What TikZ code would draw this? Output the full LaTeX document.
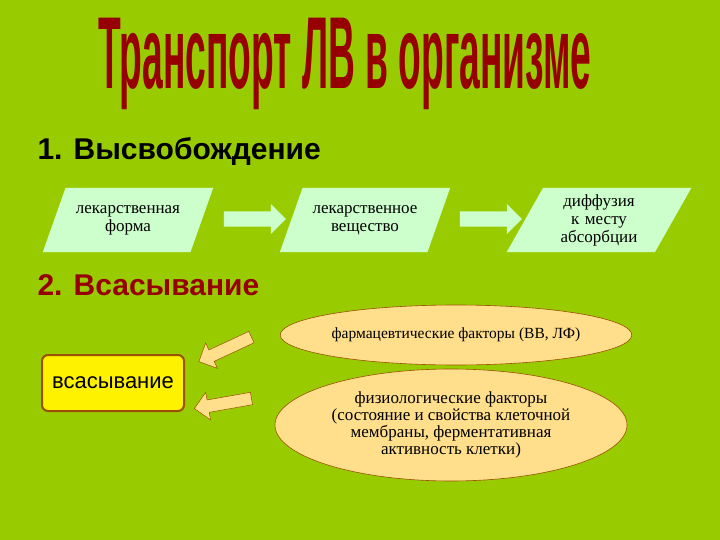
\documentclass[tikz,border=0pt]{standalone}
\usepackage{fontspec}
\setmainfont{Liberation Serif}
\newfontfamily\sansf{Liberation Sans}
\usetikzlibrary{shapes.geometric,shapes.arrows}
\definecolor{bg}{RGB}{153,204,0}
\definecolor{mint}{RGB}{204,255,204}
\definecolor{pale}{RGB}{255,222,140}
\definecolor{brn}{RGB}{153,80,0}
\definecolor{dred}{RGB}{150,0,0}
\begin{document}
\begin{tikzpicture}[x=1pt,y=-1pt,
 para/.style={trapezium,trapezium left angle=58,trapezium right angle=122,fill=mint,minimum height=64pt,text width=125pt,align=center,font=\fontsize{17}{18}\selectfont,inner xsep=0pt,trapezium stretches body},
 barrow/.style={single arrow,fill=mint,minimum height=62pt,minimum width=30pt,single arrow head extend=4pt,inner sep=4pt},
 oarrow/.style={single arrow,fill=pale,draw=brn,line width=0.5pt,minimum height=58pt,minimum width=28pt,single arrow head extend=4pt,inner sep=3pt},
 ell/.style={ellipse,fill=pale,draw=brn,line width=0.6pt,align=center,inner sep=0pt,font=\fontsize{17}{17}\selectfont},
 head/.style={anchor=west,font=\sansf\bfseries\fontsize{30}{32}\selectfont}]
\fill[bg] (0,0) rectangle (720,540);
\useasboundingbox (0,0) rectangle (720,540);
\node[text=dred,font=\sansf\bfseries\fontsize{62}{62}\selectfont,xscale=0.6,yscale=1.65] at (345,64) (tit) {Транспорт ЛВ в организме};
\node[head,text=black] at (34,151) (h1) {1. Высвобождение};
\node[head,text=dred] at (34,285) (h2) {2. Всасывание};
\node[para] at (128,220) (p1) {лекарственная\\форма};
\node[para] at (365,220) (p2) {лекарственное\\вещество};
\node[para,text width=112pt] at (599,220) (p3) {диффузия\\к месту\\абсорбции};
\node[barrow] at (251,219) (a1) {};
\node[barrow] at (487,219) (a2) {};
\node[ell,minimum width=340pt,minimum height=60pt,font=\fontsize{15.5}{16}\selectfont] at (456,335) (e1) {фармацевтические факторы (ВВ, ЛФ)};
\node[ell,minimum width=352pt,minimum height=112pt] at (451,425) (e2) {физиологические факторы\\(состояние и свойства клеточной\\мембраны, ферментативная\\активность клетки)};
\node[fill=yellow,draw=brn,line width=2pt,rounded corners=6pt,minimum width=142pt,minimum height=56pt,font=\sansf\fontsize{22}{24}\selectfont,inner sep=0pt] at (113,383) (box) {всасывание};
\node[oarrow,rotate=-155] at (228,348) (o1) {};
\node[oarrow,rotate=-170] at (226,403) (o2) {};
\end{tikzpicture}
\end{document}
